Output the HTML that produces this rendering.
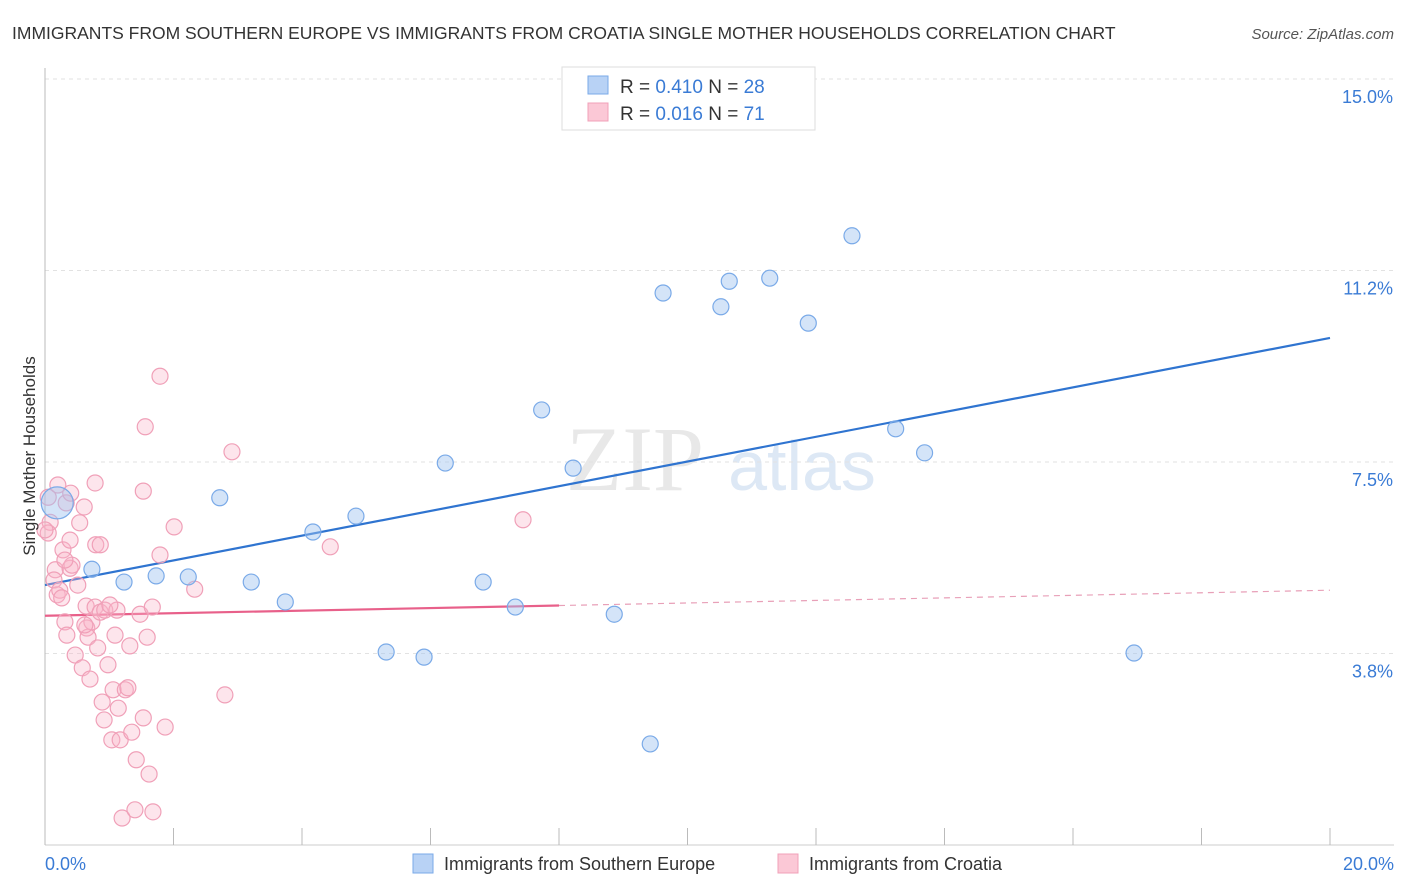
<!DOCTYPE html>
<html><head><meta charset="utf-8"><style>
body{margin:0;background:#fff;font-family:"Liberation Sans",sans-serif;}
svg{display:block}
</style></head><body>
<svg id="chart" width="1406" height="892" xmlns="http://www.w3.org/2000/svg">
<text x="12" y="39" font-size="17.5" fill="#333">IMMIGRANTS FROM SOUTHERN EUROPE VS IMMIGRANTS FROM CROATIA SINGLE MOTHER HOUSEHOLDS CORRELATION CHART</text>
<text x="1394" y="39" font-size="15" fill="#555" font-style="italic" text-anchor="end">Source: ZipAtlas.com</text>
<g>
<text x="635" y="490" font-size="92" fill="#e8e8e8" font-family="Liberation Serif,serif" text-anchor="middle">ZIP</text>
<text x="802" y="490" font-size="70" fill="#dde8f5" text-anchor="middle">atlas</text>
</g>
<g id="grid"></g>
<g id="axes"></g>
<g id="lines"></g>
<g id="pts"></g>
<text x="35" y="456" font-size="17" fill="#333" text-anchor="middle" transform="rotate(-90 35 456)">Single Mother Households</text>
<text x="45" y="870" font-size="18" fill="#3a7bd5">0.0%</text>
<text x="1394" y="870" font-size="18" fill="#3a7bd5" text-anchor="end">20.0%</text>
<g>
<rect x="562" y="67" width="253" height="63" fill="#fff" stroke="#ddd"/>
<rect x="588" y="76" width="20" height="18" fill="#b8d2f5" stroke="#7aaae8"/>
<rect x="588" y="103" width="20" height="18" fill="#fbc8d6" stroke="#f0a0b8"/>
<text x="620" y="93" font-size="19" fill="#333">R = <tspan fill="#3a7bd5">0.410</tspan>   N = <tspan fill="#3a7bd5">28</tspan></text>
<text x="620" y="120" font-size="19" fill="#333">R = <tspan fill="#3a7bd5">0.016</tspan>   N =  <tspan fill="#3a7bd5">71</tspan></text>
</g>
<g>
<rect x="413" y="854" width="20" height="19" fill="#b8d2f5" stroke="#7aaae8"/>
<text x="444" y="870" font-size="18" fill="#333">Immigrants from Southern Europe</text>
<rect x="778" y="854" width="20" height="19" fill="#fbc8d6" stroke="#f0a0b8"/>
<text x="809" y="870" font-size="18" fill="#333">Immigrants from Croatia</text>
</g>
</svg>
<script>
const yTicks=[15.0,11.25,7.5,3.75];
const yTickLabels=["15.0%","11.2%","7.5%","3.8%"];
const blueX=[0.19,0.73,1.23,1.73,2.23,2.72,3.21,3.74,4.17,4.84,5.31,5.90,6.23,6.82,7.32,7.73,8.22,8.86,9.42,9.62,10.52,10.65,11.28,11.88,12.56,13.24,13.69,16.95];
const blueY=[6.70,5.40,5.15,5.27,5.25,6.80,5.15,4.76,6.13,6.44,3.78,3.68,7.48,5.15,4.66,8.52,7.38,4.52,1.98,10.81,10.54,11.04,11.10,10.22,11.93,8.15,7.68,3.76];
const pinkX=[0.05,0.08,0.05,0.16,0.14,0.19,0.23,0.26,0.28,0.33,0.31,0.34,0.39,0.42,0.40,0.47,0.51,0.54,0.58,0.61,0.64,0.65,0.67,0.70,0.73,0.78,0.79,0.78,0.82,0.86,0.89,0.92,0.93,0.98,1.04,1.06,1.09,1.12,1.14,1.17,1.20,1.25,1.29,1.32,1.35,1.40,1.42,1.48,1.53,1.53,1.56,1.59,1.62,1.67,1.68,1.79,1.79,1.87,2.01,2.33,2.80,2.91,4.44,7.44,0.20,0.62,0.86,1.01,0.31,0.39,0.0];
const pinkY=[6.81,6.32,6.11,5.39,5.19,4.90,4.99,4.84,5.78,6.70,4.37,4.11,5.42,5.48,6.89,3.72,5.09,6.31,3.47,6.62,4.68,4.25,4.07,3.25,4.37,7.09,5.88,4.66,3.86,4.56,2.80,2.45,4.60,3.53,2.06,3.04,4.11,4.60,2.68,2.06,0.53,3.04,3.08,3.90,2.21,0.69,1.67,4.52,2.49,6.93,8.19,4.07,1.39,4.66,0.65,5.68,9.18,2.31,6.23,5.01,2.94,7.70,5.84,6.37,7.05,4.31,5.88,4.70,5.58,5.97,6.17];
const blueLine=[5.09,9.93];
const pinkLine=[4.49,4.99];
const pinkSolidEnd=8.0;
const NS="http://www.w3.org/2000/svg";
const X=v=>45+v/20*1285, Y=v=>79+(15-v)*51.07;
function mk(t,a,p){const e=document.createElementNS(NS,t);for(const k in a)e.setAttribute(k,a[k]);p.appendChild(e);return e;}
const grid=document.getElementById('grid'),axes=document.getElementById('axes'),lines=document.getElementById('lines'),pts=document.getElementById('pts');
yTicks.forEach((t,i)=>{
 const l=mk('line',{x1:45,x2:1394,y1:Y(t),y2:Y(t),stroke:'#e2e2e2','stroke-dasharray':'4,4'},grid);
 
 
 const tx=mk('text',{x:1393,y:Y(t)+24,'font-size':18,fill:'#3a7bd5','text-anchor':'end'},grid);
 tx.textContent=yTickLabels[i];
 
 
});
const ax=mk('line',{x1:45,x2:45,y1:68,y2:845,stroke:'#bbb'},axes);


const bx=mk('line',{x1:45,x2:1394,y1:845,y2:845,stroke:'#ccc'},axes);


for(let i=0;i<=10;i++){
 const t=mk('line',{x1:X(i*2),x2:X(i*2),y1:828,y2:845,stroke:'#bbb'},axes);
 
 
}
const bl=mk('line',{x1:X(0),y1:Y(blueLine[0]),x2:X(20),y2:Y(blueLine[1]),stroke:'#2f74d0','stroke-width':2.2},lines);


const py=v=>pinkLine[0]+(pinkLine[1]-pinkLine[0])*v/20;
const pl=mk('line',{x1:X(0),y1:Y(py(0)),x2:X(pinkSolidEnd),y2:Y(py(pinkSolidEnd)),stroke:'#e8608a','stroke-width':2.2},lines);


const pd=mk('line',{x1:X(pinkSolidEnd),y1:Y(py(pinkSolidEnd)),x2:X(20),y2:Y(py(20)),stroke:'#e8a0b8','stroke-width':1.2,'stroke-dasharray':'6,5'},lines);


pinkX.forEach((x,i)=>{
 const c=mk('circle',{cx:X(x),cy:Y(pinkY[i]),r:8,fill:'rgba(248,180,200,0.35)',stroke:'#f0a0b8','stroke-width':1.2},pts);
 
 
});
blueX.forEach((x,i)=>{
 const c=mk('circle',{cx:X(x),cy:Y(blueY[i]),r:i===0?16:8,fill:'rgba(160,196,240,0.45)',stroke:'#7aaae8','stroke-width':1.2},pts);
 
 
});
</script>
</body></html>
